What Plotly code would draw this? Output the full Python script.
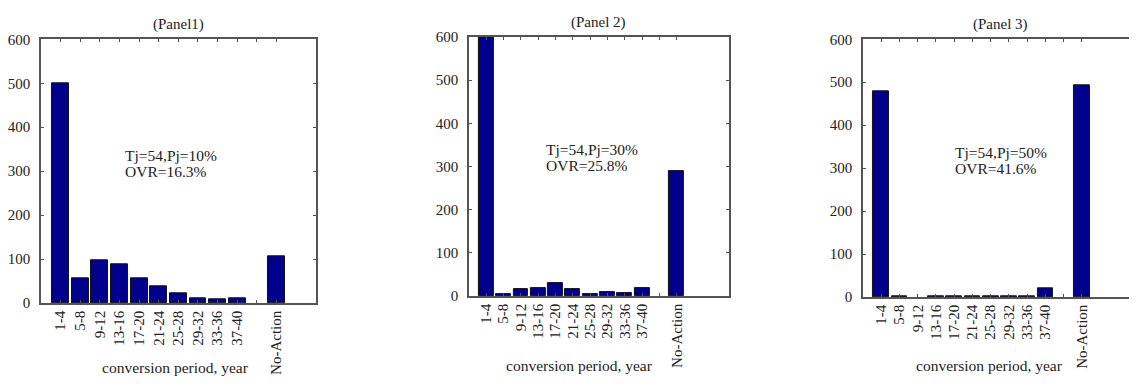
import plotly.graph_objects as go

W, H = 1137, 389
OFF = 8  # page body margin shifts the figure by 8 px right and down

categories = ["1-4", "5-8", "9-12", "13-16", "17-20", "21-24", "25-28",
              "29-32", "33-36", "37-40", "", "No-Action"]
panel1_values = [500, 57, 97, 87, 57, 39, 23, 11, 8, 11, 0, 106]
panel2_values = [600, 5, 15, 18, 29, 15, 5, 10, 7, 18, 0, 290]
panel3_values = [479, 1, 0, 1, 2, 2, 1.5, 1.5, 1.5, 19, 0, 493]
panel_titles = ["(Panel1)", "(Panel 2)", "(Panel 3)"]
line1_texts = ["Tj=54,Pj=10%", "Tj=54,Pj=30%", "Tj=54,Pj=50%"]
line2_texts = ["OVR=16.3%", "OVR=25.8%", "OVR=41.6%"]
x_title = "conversion period, year"
y_ticks = [0, 100, 200, 300, 400, 500, 600]

series = [panel1_values, panel2_values, panel3_values]

# target screen pixels: (left, right, top, bottom) of each axes box
boxes = [(40, 315, 32.3, 307.3), (468.3, 728.3, 30, 300), (862.7, 1136.5, 32.3, 301)]
xranges = [[0, 14], [0, 15], [0, 15]]
title_pos = [(178, 17), (598, 15), (1000, 17)]
text_pos = [(122, 153, 170), (543, 147, 164), (953, 150, 167)]
xtitle_pos = [(175, 375), (579, 372), (989, 373)]

FONT = "'Liberation Serif', 'Times New Roman', 'DejaVu Serif', serif"
BAR = "#00008C"
AX = "#555555"
TXT = "#222222"


def px(x):
    return (x - OFF) / W


def py(y):
    return 1 - (y - OFF) / H


fig = go.Figure()
positions = list(range(1, len(categories) + 1))

for i, vals in enumerate(series):
    n = "" if i == 0 else str(i + 1)
    fig.add_trace(go.Bar(
        x=positions, y=vals, width=0.86,
        marker=dict(color=BAR, line=dict(color="#111111",
                                         width=[1 if v > 0 else 0 for v in vals])),
        xaxis="x" + n, yaxis="y" + n, showlegend=False,
    ))
    l, r, t, b = boxes[i]
    fig.layout["xaxis" + n] = dict(
        domain=[px(l), px(r)], range=xranges[i], anchor="y" + n,
        tickmode="array", tickvals=positions, ticktext=categories,
        tickangle=-90, ticks="inside", ticklen=3, tickcolor=AX,
        showline=True, linecolor=AX, linewidth=1.5, mirror="ticks",
        showgrid=False, zeroline=False,
        tickfont=dict(family=FONT, size=15, color=TXT),
    )
    fig.layout["yaxis" + n] = dict(
        domain=[py(b), py(t)], range=[0, 600], anchor="x" + n,
        tickmode="array", tickvals=y_ticks,
        ticks="inside", ticklen=3, tickcolor=AX,
        showline=True, linecolor=AX, linewidth=1.5, mirror="ticks",
        showgrid=False, zeroline=False, ticklabelstandoff=6,
        tickfont=dict(family=FONT, size=15, color=TXT),
    )
    tx, ty = title_pos[i]
    fig.add_annotation(text=panel_titles[i], x=px(tx), y=py(ty),
                       xref="paper", yref="paper", showarrow=False,
                       xanchor="center", yanchor="middle",
                       font=dict(family=FONT, size=15, color=TXT))
    ax_, ay1, ay2 = text_pos[i]
    fig.add_annotation(text=line1_texts[i], x=px(ax_), y=py(ay1),
                       xref="paper", yref="paper", showarrow=False,
                       xanchor="left", yanchor="middle",
                       font=dict(family=FONT, size=15.5, color=TXT))
    fig.add_annotation(text=line2_texts[i], x=px(ax_), y=py(ay2),
                       xref="paper", yref="paper", showarrow=False,
                       xanchor="left", yanchor="middle",
                       font=dict(family=FONT, size=15.5, color=TXT))
    xx, xy = xtitle_pos[i]
    fig.add_annotation(text=x_title, x=px(xx), y=py(xy),
                       xref="paper", yref="paper", showarrow=False,
                       xanchor="center", yanchor="middle",
                       font=dict(family=FONT, size=15.5, color=TXT))

fig.update_layout(
    width=W, height=H, margin=dict(l=0, r=0, t=0, b=0),
    paper_bgcolor="white", plot_bgcolor="white", bargap=0,
    font=dict(family=FONT),
)

fig.write_html("out.html")
